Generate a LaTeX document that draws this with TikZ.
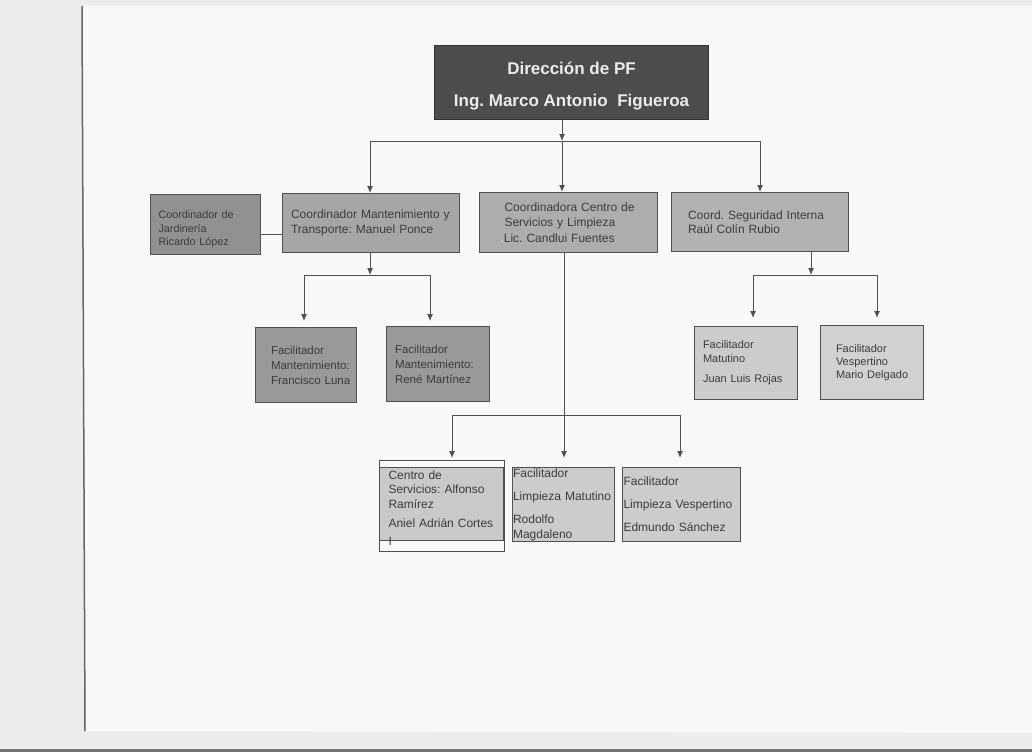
\documentclass[tikz,border=0pt]{standalone}
\usepackage{fontspec}
\setmainfont{Liberation Sans}
\usetikzlibrary{arrows.meta,calc}
\frenchspacing
\definecolor{pagebg}{HTML}{F8F8F8}
\definecolor{outbg}{HTML}{ECECEC}
\definecolor{edge}{HTML}{505050}
\definecolor{txt}{HTML}{3C3C3C}
\tikzset{
  box/.style={draw=edge, line width=1pt, anchor=north west, inner sep=0pt,
    align=left, text=txt, font=\fontsize{12}{14.5}\selectfont},
  lbl/.style={inner sep=0pt, align=left, text=txt},
  conn/.style={draw=edge, line width=1pt},
  arr/.style={conn, -{Latex[length=7pt,width=6pt]}},
}
\begin{document}
\begin{tikzpicture}[x=1pt,y=-1pt]
\useasboundingbox (0,0) rectangle (1032,752);
% scanned page
\fill[outbg] (0,0) rectangle (1032,752);
\fill[pagebg] (82,6) -- (1032,6) -- (1032,733) -- (86,731) -- cycle;
\draw[black!60, line width=1.5pt] (82,6) -- (85,731);
\fill[black!55] (0,749) rectangle (1032,752);
% boxes
\node[box, fill=black!70, draw=black!80, minimum width=274, minimum height=74] (top) at (434,45) {};
\node[lbl, align=center, text=white!92!black, font=\bfseries\fontsize{17}{32}\selectfont]
  (topt) at ($(top.center)+(0,4)$) {Dirección de PF\\Ing. Marco Antonio\ \ Figueroa};
\node[box, fill=black!43, minimum width=110, minimum height=60] (jard) at (150,194) {};
\node[lbl, text width=104, font=\fontsize{10.8}{13.5}\selectfont] (jardt) at ($(jard.center)+(0,5)$)
  {\hspace*{5pt}Coordinador de\\\hspace*{5pt}Jardinería\\\hspace*{5pt}Ricardo López};
\node[box, fill=black!35, minimum width=177, minimum height=59, text width=170] (mant) at (282,193)
  {\hspace*{5pt}Coordinador Mantenimiento y\\\hspace*{5pt}Transporte: Manuel Ponce};
\node[box, fill=black!32, minimum width=178, minimum height=60, text width=170,
  font=\fontsize{12}{15.5}\selectfont] (cent) at (479,192)
  {\hspace*{21pt}Coordinadora Centro de\\\hspace*{21pt}Servicios y Limpieza\\\hspace*{17pt}{\color{white}.}Lic. Candlui Fuentes\\[8pt]};
\node[box, fill=black!30, minimum width=177, minimum height=59, text width=170] (seg) at (671,192)
  {\hspace*{13pt}Coord. Seguridad Interna\\\hspace*{13pt}Raúl Colín Rubio};
\node[box, fill=black!40, minimum width=101, minimum height=75, text width=100,
  font=\fontsize{11.5}{15}\selectfont] (fran) at (255,327)
  {\hspace*{15pt}Facilitador\\\hspace*{15pt}Mantenimiento:\\\hspace*{15pt}Francisco Luna\\[3pt]};
\node[box, fill=black!40, minimum width=103, minimum height=75, text width=100,
  font=\fontsize{11.5}{15}\selectfont] (rene) at (386,326)
  {\hspace*{7pt}Facilitador\\\hspace*{7pt}Mantenimiento:\\\hspace*{7pt}René Martínez\\[3pt]};
\node[box, fill=black!20, minimum width=103, minimum height=73, text width=100,
  font=\fontsize{11}{14}\selectfont] (juan) at (694,326)
  {\hspace*{7pt}Facilitador\\\hspace*{7pt}Matutino\\[6pt]\hspace*{7pt}Juan Luis Rojas};
\node[box, fill=black!18, minimum width=103, minimum height=74, text width=100,
  font=\fontsize{11}{13}\selectfont] (mario) at (820,325)
  {\hspace*{14pt}Facilitador\\\hspace*{14pt}Vespertino\\\hspace*{14pt}Mario Delgado\\[10pt]};
\node[box, fill=black!21, minimum width=124, minimum height=73] (csv) at (379,467) {};
\node[lbl, text width=124, font=\fontsize{12}{14.5}\selectfont] (csvt) at ($(csv.center)+(0,4)$)
  {\hspace*{9pt}Centro de\\\hspace*{9pt}Servicios: Alfonso\\\hspace*{9pt}Ramírez\\[5pt]\hspace*{9pt}Aniel Adrián Cortes\\[3pt]\hspace*{9pt}I};
\draw[edge, line width=0.8pt] (379,460) rectangle (504,551);
\node[box, fill=black!20, minimum width=102, minimum height=74, text width=102,
  font=\fontsize{12}{15}\selectfont] (rod) at (512,467)
  {\hspace*{0.5pt}Facilitador\\[8pt]\hspace*{0.5pt}Limpieza Matutino\\[8pt]\hspace*{0.5pt}Rodolfo\\\hspace*{0.5pt}Magdaleno\\[2pt]};
\node[box, fill=black!20, minimum width=118, minimum height=74, text width=118,
  font=\fontsize{12}{15}\selectfont] (edm) at (622,467)
  {\hspace*{1pt}Facilitador\\[8pt]\hspace*{1pt}Limpieza Vespertino\\[8pt]\hspace*{1pt}Edmundo Sánchez\\[10pt]};
% connectors: top level
\coordinate (tj) at (562,141);
\draw[arr] (tj |- top.south) -- (tj);
\draw[arr] (tj) -- (tj |- cent.north);
\draw[arr] (tj) -| (370,193);
\draw[arr] (tj) -| (760,192);
\draw[conn] (jard.east |- 0,234) -- (mant.west |- 0,234);
% mantenimiento
\coordinate (mj) at (370,275);
\coordinate (fa) at (304,275);
\coordinate (ra) at (430,275);
\draw[arr] (mant.south -| mj) -- (mj);
\draw[conn] (fa) -- (ra);
\draw[arr, shorten >=6pt] (fa) -- (fa |- fran.north);
\draw[arr, shorten >=5pt] (ra) -- (ra |- rene.north);
% seguridad
\coordinate (sj) at (811,275);
\coordinate (ja) at (753,275);
\coordinate (ma) at (877,275);
\draw[arr] (seg.south -| sj) -- (sj);
\draw[conn] (ja) -- (ma);
\draw[arr, shorten >=8pt] (ja) -- (ja |- juan.north);
\draw[arr, shorten >=7pt] (ma) -- (ma |- mario.north);
% centro
\coordinate (cj) at (564,415);
\coordinate (ca) at (452,415);
\coordinate (ea) at (680,415);
\draw[arr, shorten >=9pt] (cent.south -| cj) -- (cj |- rod.north);
\draw[conn] (ca) -- (ea);
\draw[arr, shorten >=2pt] (ca) -- (ca |- 0,460);
\draw[arr, shorten >=9pt] (ea) -- (ea |- edm.north);
\end{tikzpicture}
\end{document}
